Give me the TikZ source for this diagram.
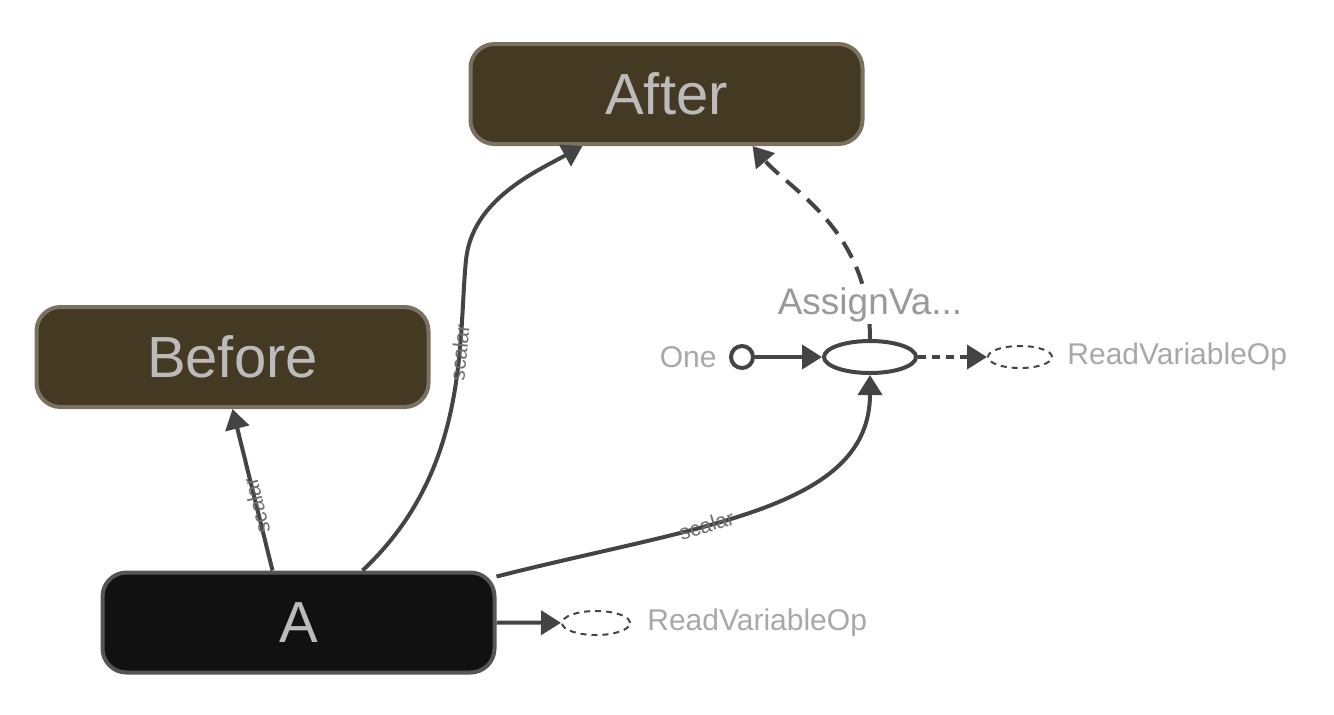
\documentclass[tikz,border=0pt]{standalone}
\usepackage{fontspec}
\setmainfont{Liberation Sans}
\usetikzlibrary{arrows.meta,positioning,shapes.geometric}
\definecolor{opfill}{HTML}{443A24}
\definecolor{opline}{HTML}{7A7160}
\definecolor{cfill}{HTML}{111111}
\definecolor{cline}{HTML}{555555}
\definecolor{lbl}{HTML}{BBBBBB}
\definecolor{edgec}{HTML}{444444}
\definecolor{outl}{HTML}{A8A8A8}
\definecolor{etext}{HTML}{6E6E6E}

\begin{document}
\begin{tikzpicture}[
  x=0.5pt, y=-0.5pt,
  opbox/.style={rectangle, draw=opline, fill=opfill, line width=2pt,
                rounded corners=12pt, minimum width=196pt, minimum height=50pt,
                text=lbl, font=\fontsize{29}{30}\selectfont},
  constbox/.style={opbox, draw=cline, fill=cfill},
  opnode/.style={ellipse, draw=edgec, fill=white, line width=2pt, inner sep=0pt,
                 minimum width=46pt, minimum height=16pt},
  constdot/.style={circle, draw=edgec, fill=white, line width=2pt, inner sep=0pt,
                   minimum size=11pt},
  refnode/.style={ellipse, draw=edgec, line width=1pt, dash pattern=on 3pt off 2.5pt,
                  inner sep=0pt, minimum width=32pt, minimum height=11pt},
  outtext/.style={inner sep=1pt, text=outl, font=\fontsize{15}{16}\selectfont},
  edge/.style={draw=edgec, line width=2pt, ->},
  elabel/.style={sloped, inner sep=0.5pt, text=etext, font=\fontsize{10.5}{11}\selectfont},
  >={Triangle[length=10pt,width=12pt]}
]
  \useasboundingbox (0,0) rectangle (1334,714);

  % Main ops
  \node[opbox]    (after)  at (666.5,94)  {After};
  \node[opbox]    (before) at (232.5,357) {Before};
  \node[constbox] (a)      at (298.5,622.5) {A};

  % AssignVariableOp with its inputs
  \node[opnode]   (assign) at (870,357) {};
  \node[constdot] (one)    at (742,357) {};
  \node[outtext, left=5pt of one] (onelbl) {One};
  \node[refnode]  (rv1)    at (1020,357) {};
  \node[outtext, right=6pt of rv1] (rv1lbl) {ReadVariableOp};

  % Read of A
  \node[refnode, minimum width=34pt, minimum height=12pt] (rv2) at (596,623) {};
  \node[outtext, right=7pt of rv2] (rv2lbl) {ReadVariableOp};

  % Data edges
  \draw[edge] ([xshift=-13pt]a.north) -- (before.south)
    node[elabel, allow upside down, pos=0.4] {scalar};
  \draw[edge] ([xshift=32pt]a.north) .. controls (470,470) and (458,340) .. (466,260)
    node[elabel, allow upside down, pos=0.67] {scalar}
    .. controls (472,200) and (535,172) .. ([xshift=-42pt]after.south);
  \draw[edge] ([yshift=-3pt]a.north east) .. controls (700,525) and (870,510) .. (assign.south)
    node[elabel, pos=0.38] {scalar};
  \draw[edge] (one) -- (assign);
  \draw[edge] (a.east) -- (rv2);

  % Control edges
  \draw[edge, dash pattern=on 9pt off 5pt] (assign.north) .. controls (870,230) and (790,190) .. ([xshift=43pt]after.south);
  \draw[edge, dash pattern=on 4pt off 3pt] (assign) -- (rv1);

  % Op label
  \node[inner sep=1pt, fill=white, text=gray!80, font=\fontsize{18.5}{19}\selectfont] (assignlbl) at (870,305) {AssignVa...};
\end{tikzpicture}
\end{document}
